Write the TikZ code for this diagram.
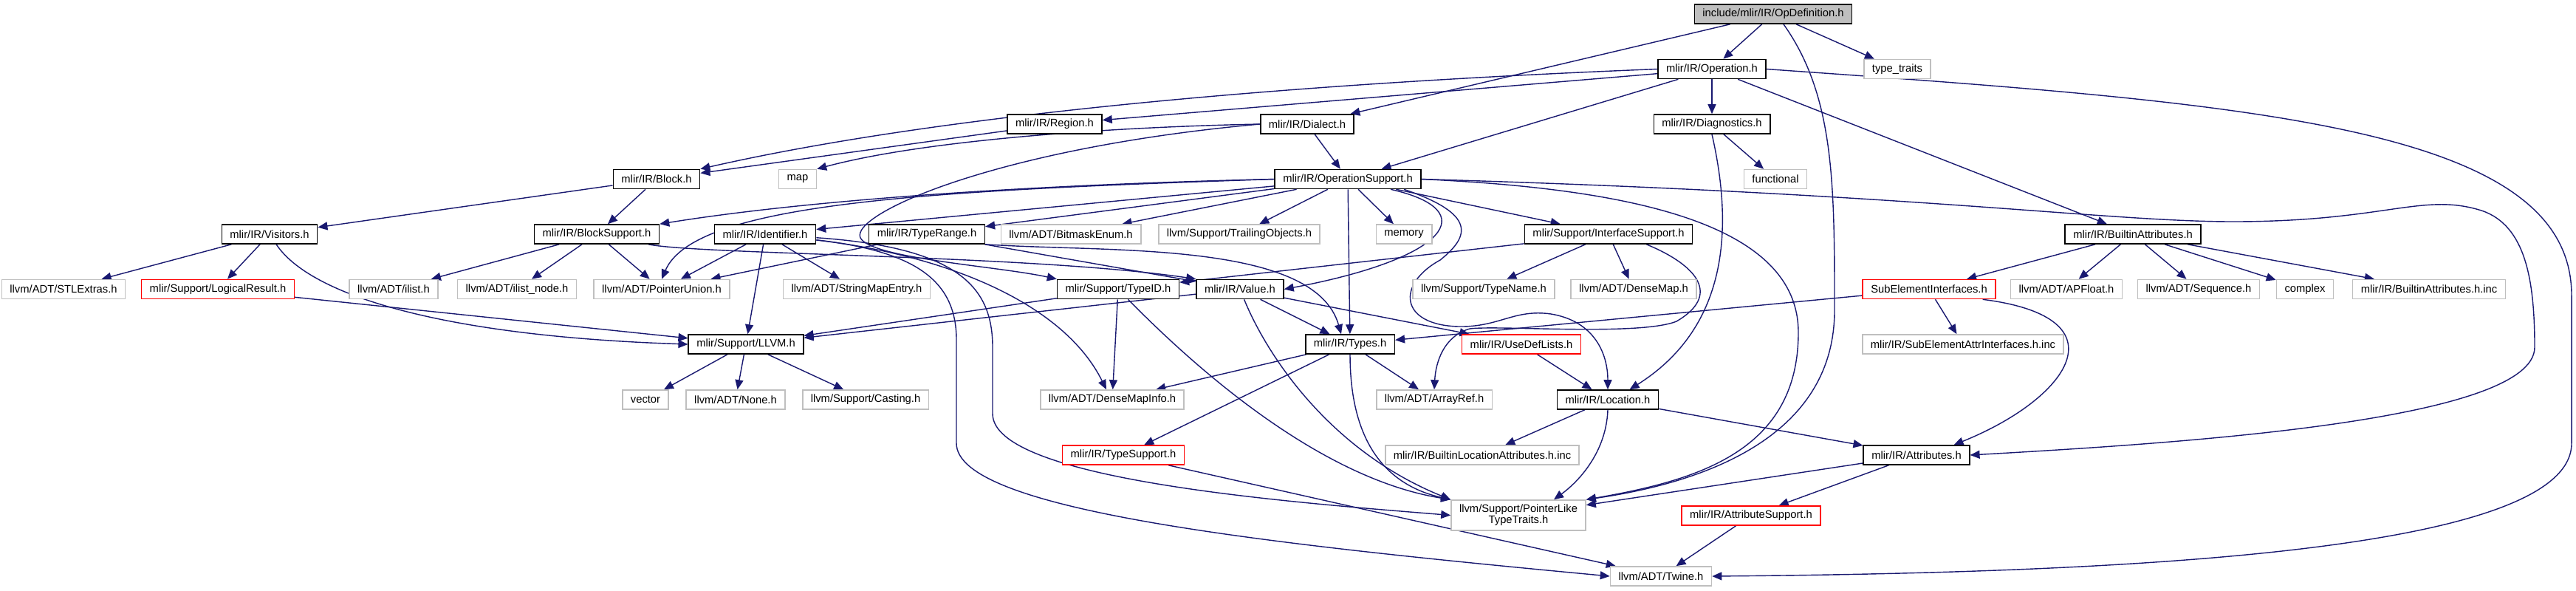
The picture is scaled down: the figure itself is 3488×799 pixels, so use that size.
\documentclass[tikz,border=0pt]{standalone}
\usepackage{fontspec}
\setmainfont{Liberation Sans}
\usetikzlibrary{arrows.meta, calc, backgrounds}

\definecolor{edgeblue}{HTML}{191970}
\definecolor{boxgray}{HTML}{BFBFBF}

\begin{document}
\begin{tikzpicture}[
    x=0.02cm, y=-0.02cm,
    box/.style={rectangle, fill=white, line width=0.9pt, minimum height=0.52cm,
                inner xsep=6.3pt, inner ysep=0pt, align=center,
                font=\fontsize{8.4}{8.6}\selectfont},
    dep/.style={box, draw=black},
    sys/.style={box, draw=boxgray},
    part/.style={box, draw=red},
    root/.style={box, draw=black, fill=boxgray},
    arrow/.style={-{Triangle[length=2.6mm, width=2.2mm]}, edgeblue, line width=0.8pt}
  ]
    \useasboundingbox (0,0) rectangle (3488,799);

    % top of the graph
    \node[root] (opdef) at (2401,19) {include/mlir/IR/OpDefinition.h};
    \node[dep] (operation) at (2318,93.5) {mlir/IR/Operation.h};
    \node[sys] (typetraits) at (2569,93.5) {type\_traits};

    % second row
    \node[dep] (region) at (1428,168) {mlir/IR/Region.h};
    \node[dep] (dialect) at (1770,168) {mlir/IR/Dialect.h};
    \node[dep] (diagnostics) at (2318,168) {mlir/IR/Diagnostics.h};

    % third row
    \node[dep] (block) at (889,242.5) {mlir/IR/Block.h};
    \node[sys] (map) at (1080,242.5) {map};
    \node[dep] (opsupport) at (1825,242.5) {mlir/IR/OperationSupport.h};
    \node[sys] (functional) at (2404,242.5) {functional};

    % fourth row
    \node[dep] (visitors) at (365,317) {mlir/IR/Visitors.h};
    \node[dep] (blocksupport) at (808,317) {mlir/IR/BlockSupport.h};
    \node[dep] (identifier) at (1036,317) {mlir/IR/Identifier.h};
    \node[dep] (typerange) at (1255,317) {mlir/IR/TypeRange.h};
    \node[sys] (bitmask) at (1450,317) {llvm/ADT/BitmaskEnum.h};
    \node[sys] (trailing) at (1678,317) {llvm/Support/TrailingObjects.h};
    \node[sys] (memory) at (1901,317) {memory};
    \node[dep] (ifacesupport) at (2178,317) {mlir/Support/InterfaceSupport.h};
    \node[dep] (builtinattrs) at (2888,317) {mlir/IR/BuiltinAttributes.h};

    % fifth row
    \node[sys] (stlextras) at (86,391.5) {llvm/ADT/STLExtras.h};
    \node[part] (logicalresult) at (295,391.5) {mlir/Support/LogicalResult.h};
    \node[sys] (ilist) at (533,391.5) {llvm/ADT/ilist.h};
    \node[sys] (ilistnode) at (700,391.5) {llvm/ADT/ilist\_node.h};
    \node[sys] (pointerunion) at (896,391.5) {llvm/ADT/PointerUnion.h};
    \node[sys] (stringmapentry) at (1160,391.5) {llvm/ADT/StringMapEntry.h};
    \node[dep] (typeid) at (1514,391.5) {mlir/Support/TypeID.h};
    \node[dep] (value) at (1679,391.5) {mlir/IR/Value.h};
    \node[sys] (typename) at (2009,391.5) {llvm/Support/TypeName.h};
    \node[sys] (densemap) at (2212,391.5) {llvm/ADT/DenseMap.h};
    \node[part] (subelem) at (2612,391.5) {SubElementInterfaces.h};
    \node[sys] (apfloat) at (2798,391.5) {llvm/ADT/APFloat.h};
    \node[sys] (sequence) at (2977,391.5) {llvm/ADT/Sequence.h};
    \node[sys] (complex) at (3121,391.5) {complex};
    \node[sys] (builtinattrsinc) at (3289,391.5) {mlir/IR/BuiltinAttributes.h.inc};

    % sixth row
    \node[dep] (llvm) at (1010,466) {mlir/Support/LLVM.h};
    \node[dep] (types) at (1828,466) {mlir/IR/Types.h};
    \node[part] (usedeflists) at (2060,466) {mlir/IR/UseDefLists.h};
    \node[sys] (subelemattrinc) at (2658,466) {mlir/IR/SubElementAttrInterfaces.h.inc};

    % seventh row
    \node[sys] (vector) at (874,541) {vector};
    \node[sys] (none) at (996,541) {llvm/ADT/None.h};
    \node[sys] (casting) at (1172,541) {llvm/Support/Casting.h};
    \node[sys] (densemapinfo) at (1506,541) {llvm/ADT/DenseMapInfo.h};
    \node[sys] (arrayref) at (1942,541) {llvm/ADT/ArrayRef.h};
    \node[dep] (location) at (2177,541) {mlir/IR/Location.h};

    % bottom rows
    \node[part] (typesupport) at (1521,616) {mlir/IR/TypeSupport.h};
    \node[sys] (builtinlocinc) at (2007,616) {mlir/IR/BuiltinLocationAttributes.h.inc};
    \node[dep] (attributes) at (2595,616) {mlir/IR/Attributes.h};
    \node[sys, minimum height=0.82cm] (pointerlike) at (2056,697.5) {llvm/Support/PointerLike\\TypeTraits.h};
    \node[part] (attrsupport) at (2371,698) {mlir/IR/AttributeSupport.h};
    \node[sys] (twine) at (2249,780) {llvm/ADT/Twine.h};

    \begin{pgfonlayer}{background}
    % OpDefinition.h
    \draw[arrow] (opdef) -- (operation);
    \draw[arrow] (opdef) -- (dialect);
    \draw[arrow] (opdef) -- (typetraits);
    \draw[arrow] ($(opdef.south)+(14,0)$) .. controls (2484,130) and (2484,250) .. (2484,420)
      .. controls (2484,580) and (2330,650) .. (pointerlike.north east);

    % Operation.h
    \draw[arrow] (operation.west) .. controls (1700,115) and (1250,160) .. (block.north east);
    \draw[arrow] (operation) -- (region);
    \draw[arrow] (operation) -- (opsupport);
    \draw[arrow] (operation) -- (diagnostics);
    \draw[arrow] (operation) -- (builtinattrs);
    \draw[arrow] (operation.east) .. controls (3050,140) and (3482,170) .. (3482,400)
      -- (3482,600) .. controls (3482,745) and (2900,775) .. (twine.east);

    % Region.h, Dialect.h, Diagnostics.h
    \draw[arrow] (region) -- (block);
    \draw[arrow] (dialect.west) .. controls (1500,172) and (1250,190) .. (map.north east);
    \draw[arrow] (dialect) -- (opsupport);
    \draw[arrow] (dialect.west) .. controls (1350,200) and (1150,290) .. (1165,322)
      .. controls (1180,350) and (1350,360) .. (typeid.north west);
    \draw[arrow] (diagnostics) -- (functional);
    \draw[arrow] (diagnostics.south) .. controls (2345,300) and (2345,440) .. (location.25);

    % Block.h, Visitors.h
    \draw[arrow] (block) -- (visitors);
    \draw[arrow] (block) -- (blocksupport);
    \draw[arrow] (visitors) -- (stlextras);
    \draw[arrow] (visitors) -- (logicalresult);
    \draw[arrow] (visitors) .. controls (420,400) and (600,455) .. (llvm.west);
    \draw[arrow] (logicalresult) -- (llvm);

    % BlockSupport.h
    \draw[arrow] (blocksupport) -- (ilist);
    \draw[arrow] (blocksupport) -- (ilistnode);
    \draw[arrow] (blocksupport) -- (pointerunion);
    \draw[arrow] (blocksupport) .. controls (950,345) and (1400,345) .. (value.north west);

    % OperationSupport.h
    \draw[arrow] (opsupport.west) .. controls (1400,250) and (1100,270) .. (blocksupport.north east);
    \draw[arrow] (opsupport.west) .. controls (1250,258) and (940,275) .. (pointerunion.north);
    \draw[arrow] (opsupport) -- (identifier);
    \draw[arrow] (opsupport) -- (typerange);
    \draw[arrow] (opsupport) -- (bitmask);
    \draw[arrow] (opsupport) -- (trailing);
    \draw[arrow] (opsupport) -- (memory);
    \draw[arrow] (opsupport) -- (ifacesupport);
    \draw[arrow] (opsupport) -- (types);
    \draw[arrow] ($(opsupport.south)+(58,0)$) .. controls (2010,285) and (1960,350) .. (value.east);
    \draw[arrow] ($(opsupport.south)+(76,0)$) .. controls (2000,290) and (1990,320) .. (1950,352)
      .. controls (1890,385) and (1895,440) .. (1975,442)
      .. controls (2030,443) and (2050,418) .. (2100,425)
      .. controls (2160,435) and (2177,480) .. (location.north);
    \draw[arrow] (opsupport.east) .. controls (2200,255) and (2435,300) .. (2435,450)
      .. controls (2435,610) and (2300,650) .. (pointerlike.north east);
    \draw[arrow] (opsupport.east) .. controls (2600,262) and (2850,300) .. (3024,300)
      .. controls (3230,300) and (3280,260) .. (3360,285)
      .. controls (3420,305) and (3432,380) .. (3432,470)
      .. controls (3432,570) and (2950,600) .. (attributes.east);

    % Identifier.h
    \draw[arrow] (identifier) -- (pointerunion);
    \draw[arrow] (identifier) -- (llvm);
    \draw[arrow] (identifier) -- (stringmapentry);
    \draw[arrow] (identifier) .. controls (1280,345) and (1440,410) .. ($(densemapinfo.north)+(-8,0)$);
    \draw[arrow] (identifier) .. controls (1240,340) and (1295,380) .. (1295,460)
      -- (1295,600) .. controls (1295,690) and (1700,735) .. (twine.west);
    \draw[arrow] (identifier) .. controls (1300,335) and (1344,390) .. (1344,470)
      -- (1344,560) .. controls (1344,650) and (1750,680) .. (pointerlike.west);

    % TypeRange.h, Value.h, TypeID.h
    \draw[arrow] (typerange) -- (pointerunion);
    \draw[arrow] (typerange) -- (value);
    \draw[arrow] (typerange.south east) .. controls (1500,342) and (1780,325) .. ($(types.north)+(-12,0)$);
    \draw[arrow] (value) -- (types);
    \draw[arrow] (value) -- (usedeflists);
    \draw[arrow] (value) -- (llvm);
    \draw[arrow] (value) .. controls (1715,480) and (1800,610) .. (pointerlike.north west);
    \draw[arrow] (typeid) -- (llvm);
    \draw[arrow] (typeid) -- (densemapinfo);
    \draw[arrow] (typeid) .. controls (1640,520) and (1800,650) .. (pointerlike.north west);

    % Types.h, UseDefLists.h
    \draw[arrow] (types) -- (densemapinfo);
    \draw[arrow] (types) -- (typesupport);
    \draw[arrow] (types) -- (arrayref);
    \draw[arrow] (types.south) .. controls (1828,590) and (1870,655) .. (pointerlike.north west);
    \draw[arrow] (typesupport) -- (twine);
    \draw[arrow] (usedeflists) -- (location);

    % InterfaceSupport.h
    \draw[arrow] (ifacesupport) -- (typeid);
    \draw[arrow] (ifacesupport) -- (typename);
    \draw[arrow] (ifacesupport) -- (densemap);
    \draw[arrow] ($(ifacesupport.south east)+(-63,0)$) .. controls (2300,360) and (2330,400) .. (2270,435)
      .. controls (2220,455) and (2030,440) .. (1990,445)
      .. controls (1955,455) and (1944,490) .. (arrayref.north);

    % Location.h, Attributes.h
    \draw[arrow] (location) -- (builtinlocinc);
    \draw[arrow] (location.south) .. controls (2175,610) and (2140,650) .. ($(pointerlike.north)+(48,0)$);
    \draw[arrow] (location) -- (attributes);
    \draw[arrow] (attributes) -- (pointerlike);
    \draw[arrow] (attributes) -- (attrsupport);
    \draw[arrow] (attrsupport) -- (twine);

    % BuiltinAttributes.h
    \draw[arrow] (builtinattrs) -- (subelem);
    \draw[arrow] (builtinattrs) -- (apfloat);
    \draw[arrow] (builtinattrs) -- (sequence);
    \draw[arrow] (builtinattrs) -- (complex);
    \draw[arrow] (builtinattrs) -- (builtinattrsinc);
    \draw[arrow] (subelem) -- (subelemattrinc);
    \draw[arrow] ($(subelem.south east)+(-18,0)$) .. controls (2880,430) and (2800,540) .. ($(attributes.north east)+(-22,0)$);
    \draw[arrow] (subelem) -- (types);

    % LLVM.h
    \draw[arrow] (llvm) -- (vector);
    \draw[arrow] (llvm) -- (none);
    \draw[arrow] (llvm) -- (casting);
    \end{pgfonlayer}

  \end{tikzpicture}
\end{document}
